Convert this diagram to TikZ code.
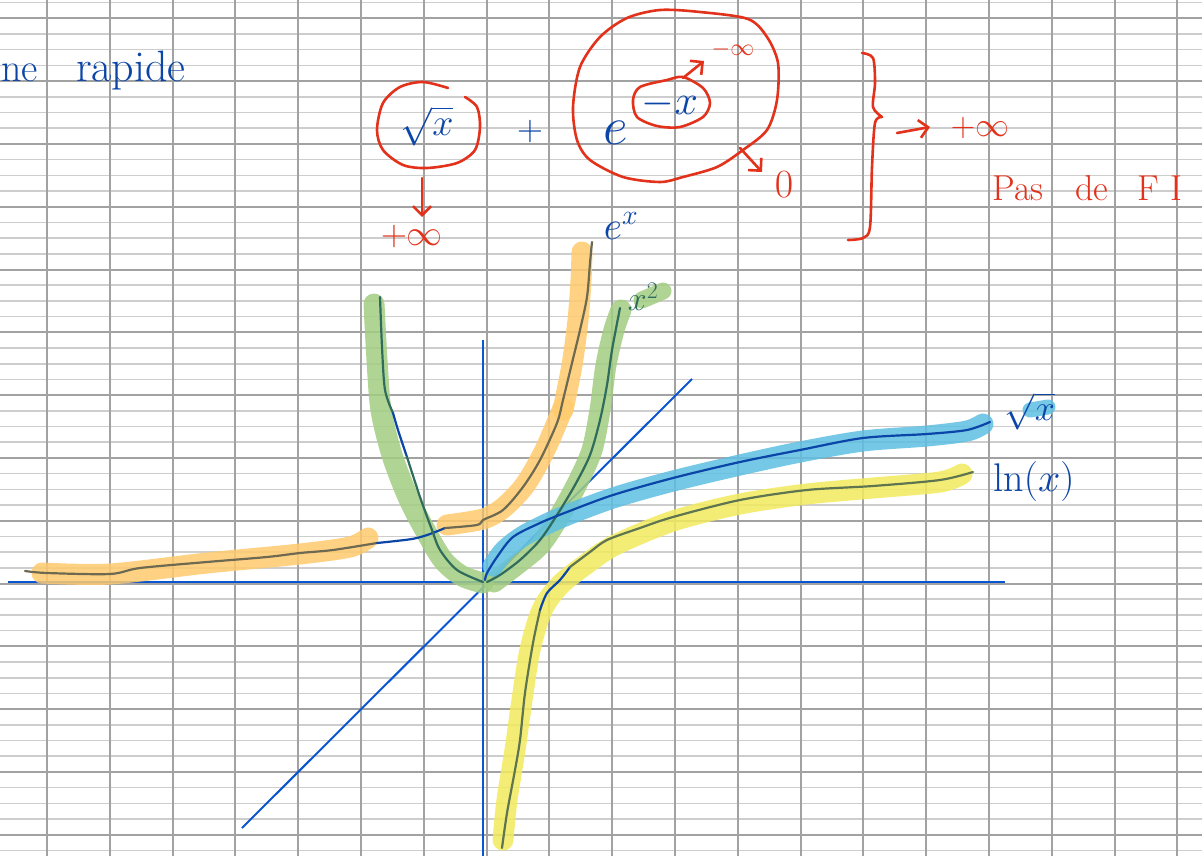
\RequirePackage{fix-cm}
\documentclass[tikz,border=0pt]{standalone}
\usepackage{fontspec}
\usetikzlibrary{arrows.meta}
\definecolor{gridD}{HTML}{A2A2A2}
\definecolor{gridL}{HTML}{CDCDCD}
\definecolor{axisblue}{HTML}{0A55D2}
\definecolor{ink}{HTML}{0B45A8}
\definecolor{rouge}{HTML}{E3321B}
\definecolor{hlO}{HTML}{FFCB6E}
\definecolor{hlG}{HTML}{A3CD82}
\definecolor{hlB}{HTML}{5EBFE2}
\definecolor{hlY}{HTML}{F3EB5E}
\definecolor{inkO}{HTML}{6E6A52}
\definecolor{inkG}{HTML}{2F6C5C}
\definecolor{inkY}{HTML}{5E7550}
\tikzset{
  gline/.style={gridL, line width=1.6pt},
  gdark/.style={gridD, line width=2pt},
  axisline/.style={axisblue, line width=2.4pt},
  curve/.style={line width=2.2pt, line cap=round, line join=round},
  hl/.style={line width=21pt, line cap=round, line join=round, opacity=0.85},
  redpen/.style={rouge, line width=2.6pt, line cap=round, line join=round},
  redarrow/.style={redpen, -{Straight Barb[length=9pt,width=18pt,line width=2.6pt]}},
  bluetxt/.style={ink, inner sep=0pt},
  redtxt/.style={rouge, inner sep=0pt}
}
\begin{document}
\begin{tikzpicture}[x=1pt,y=-1pt]
\useasboundingbox (0,0) rectangle (1202,856);
\fill[white] (0,0) rectangle (1202,856);
% grid
\foreach \j in {-1,...,53} \draw[gline] (0,{18.3+15.7*\j}) -- (1202,{18.3+15.7*\j});
\foreach \k in {0,...,13} \draw[gdark] (0,{18.3+62.8*\k}) -- (1202,{18.3+62.8*\k});
\foreach \i in {0,...,18} \draw[gdark] ({47+62.8*\i},0) -- ({47+62.8*\i},856);

% axes and y=x
\coordinate (xl) at (8,582); \coordinate (xr) at (1005,582);
\coordinate (yt) at (483,340); \coordinate (yb) at (483,856);
\coordinate (dl) at (242,828); \coordinate (dr) at (692,379);
\draw[axisline] (xl) -- (xr);
\draw[axisline] (yb) -- (yt);
\draw[axisblue, line width=2pt] (dl) -- (dr);

% highlights
\draw[hl, hlO] plot[smooth] coordinates {(42,573) (110,574) (207,563) (300,554) (350,547) (368,538)};
\draw[hl, hlO] plot[smooth] coordinates {(447,525) (483,519) (503,508) (525,485) (545,450) (563,408)};
\draw[hl, hlO] plot[smooth] coordinates {(563,410) (572,365) (578,320) (581,280) (582,252)};
\draw[hl, hlG] plot[smooth] coordinates {(374,304) (377,360) (381,410) (392,455) (408,497) (425,530) (443,560) (462,576) (483,583)};
\draw[hl, hlG] plot[smooth] coordinates {(494,582) (515,566) (540,545) (560,515) (578,482) (592,450) (600,410) (606,365) (614,330) (621,310)};
\draw[hl, hlB] plot[smooth] coordinates {(493,566) (505,550) (525,535) (560,518) (613,498) (673,481) (740,465) (800,452) (863,441) (927,436) (967,431) (983,424)};
\draw[hl, hlY] plot[smooth] coordinates {(503,840) (507,800) (515,750) (522,700) (530,650) (542,610) (560,585) (585,565) (615,545) (673,521) (740,504) (807,494) (873,488) (940,482) (962,474)};
\draw[hl, hlG, line width=17pt] (642,300) -- (663,291);
\draw[hl, hlB, line width=15pt] (1030,410) -- (1048,407);

% curve inks
\draw[curve, inkO] plot[smooth] coordinates {(25,571) (47,573) (110,574) (140,568) (207,562) (267,557) (300,553) (333,550) (377,543)};
\draw[curve, ink] plot[smooth] coordinates {(377,543) (412,539) (430,534) (445,528)};
\draw[curve, inkO] plot[smooth] coordinates {(445,528) (477,525) (483,520) (503,510) (523,487) (540,460) (557,423) (563,400) (572,363) (580,330) (587,297) (590,263) (592,242)};
\draw[curve, inkG] plot[smooth] coordinates {(380,297) (382,347) (385,390) (393,413)};
\draw[curve, ink] plot[smooth] coordinates {(393,413) (398,430) (407,457)};
\draw[curve, inkG] plot[smooth] coordinates {(407,457) (420,497) (432,530) (440,550) (457,570) (483,582)};
\draw[curve, inkG] plot[smooth] coordinates {(487,582) (500,575) (520,560) (540,540) (557,515) (575,485) (590,455) (600,420) (607,385) (612,350) (620,308)};
\draw[curve, ink] plot[smooth] coordinates {(485,580) (487,573) (497,557) (513,537) (540,523) (567,512) (613,495) (673,478) (740,462) (800,450) (863,438) (927,434) (967,430) (990,422)};
\draw[curve, inkY] plot[smooth] coordinates {(502,848) (507,813) (515,770) (520,740) (525,693) (533,643) (540,610)};
\draw[curve, ink] plot[smooth] coordinates {(540,610) (547,593) (560,580) (570,567)};
\draw[curve, inkY] plot[smooth] coordinates {(570,567) (590,552) (607,540) (640,528) (673,517) (740,500) (807,490) (873,486) (940,480) (973,472)};

% curve labels
\node[bluetxt, font=\fontsize{40}{46}\selectfont] (lexp) at (621,226) {$e^{x}$};
\node[inkG, inner sep=0pt, font=\fontsize{34}{40}\selectfont] (lsq) at (643,297) {$x^{2}$};
\node[bluetxt, font=\fontsize{36}{42}\selectfont] (lroot) at (1030,411) {$\sqrt{x}$};
\node[bluetxt, font=\fontsize{40}{46}\selectfont] (lln) at (1034,481) {$\ln(x)$};

% top-left text
\node[bluetxt, anchor=base west, font=\fontsize{40}{46}\selectfont] (tl1) at (1,82) {ne};
\node[bluetxt, anchor=base, font=\fontsize{44}{50}\selectfont] (tl2) at (131,82) {rapide};

% top formula
\node[bluetxt, font=\fontsize{38}{44}\selectfont] (fsqrt) at (427,126) {$\sqrt{x}$};
\node[bluetxt, font=\fontsize{36}{42}\selectfont] (fplus) at (530,132) {$+$};
\node[bluetxt, font=\fontsize{54}{60}\selectfont] (fe) at (616,133) {$e$};
\node[bluetxt, font=\fontsize{42}{48}\selectfont] (fmx) at (670,104) {$-x$};

% red circles
\draw[redpen] plot[smooth] coordinates {(465,97) (477,107) (480,127) (475,150) (457,163) (427,168) (403,165) (383,150) (377,130) (383,103) (400,87) (423,82) (448,88)};
\draw[redpen] plot[smooth cycle] coordinates {(660,10) (700,12) (748,19) (767,37) (778,63) (777,100) (767,130) (743,150) (717,167) (683,177) (660,182) (623,177) (590,160) (577,140) (573,107) (580,67) (600,37) (627,18)};
\draw[redpen] plot[smooth cycle] coordinates {(667,80) (683,77) (703,88) (710,103) (703,117) (680,127) (657,126) (637,117) (633,100) (640,87)};

% red annotations
\node[redtxt, font=\fontsize{24}{28}\selectfont] (mi) at (733,50) {$-\infty$};
\node[redtxt, font=\fontsize{40}{46}\selectfont] (zero) at (784,185) {$0$};
\node[redtxt, font=\fontsize{36}{42}\selectfont] (pinf) at (412,236) {$+\infty$};
\node[redtxt, font=\fontsize{34}{40}\selectfont] (pinf2) at (980,128) {$+\infty$};
\node[redtxt, font=\fontsize{36}{42}\selectfont] (pas) at (1018,188) {Pas};
\node[redtxt, font=\fontsize{36}{42}\selectfont] (de) at (1092,188) {de};
\node[redtxt, font=\fontsize{36}{42}\selectfont] (fi) at (1160,188) {F\,\,I};

\coordinate (a1s) at (683,78); \coordinate (a1e) at (704,61);
\coordinate (a2s) at (740,148); \coordinate (a2e) at (762,172);
\coordinate (a3s) at (422,178); \coordinate (a3e) at (422,217);
\coordinate (a4s) at (897,133); \coordinate (a4e) at (930,127);
\draw[redarrow] (a1s) -- (a1e);
\draw[redarrow] (a2s) -- (a2e);
\draw[redarrow] (a3s) -- (a3e);
\draw[redarrow] (a4s) -- (a4e);

% brace
\draw[redpen] plot[smooth] coordinates {(862,53) (873,58) (875,83) (873,107) (882,117)};
\draw[redpen] plot[smooth] coordinates {(882,117) (875,123) (872,167) (870,227) (863,238) (848,240)};
\end{tikzpicture}
\end{document}
